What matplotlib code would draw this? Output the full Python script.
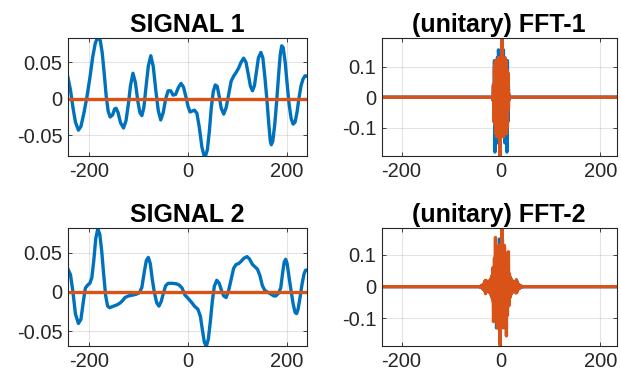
import numpy as np
import matplotlib
matplotlib.use("Agg")
import matplotlib.pyplot as plt

# ---- time-domain samples (real part; imaginary part is zero) ----
sig1_t = [-242, -237, -232, -227, -221, -216, -210, -204, -198, -192, -187, -183, -180,
          -177, -173, -169, -165, -161, -157, -152, -148, -145, -141, -136, -130, -125,
          -120, -116, -111, -106, -101, -97, -93, -89, -85, -80, -75, -70, -65, -60, -55,
          -50, -45, -40, -35, -30, -25, -19, -14, -9, -4, 0, 4, 8, 13, 18, 23, 28, 32, 35,
          39, 43, 47, 51, 55, 59, 63, 67, 72, 77, 82, 87, 92, 97, 102, 107, 112, 117, 122,
          126, 130, 134, 138, 142, 147, 151, 155, 159, 163, 166, 168, 171, 175, 179, 183,
          186, 189, 192, 196, 200, 204, 208, 212, 216, 220, 224, 228, 232, 236, 240]
sig1_re = [0.029, 0.012, -0.012, -0.032, -0.043, -0.038, -0.020, 0.002, 0.028, 0.058, 0.076,
           0.083, 0.083, 0.080, 0.063, 0.035, 0.004, -0.017, -0.025, -0.022, -0.014, -0.013,
           -0.019, -0.033, -0.040, -0.030, -0.006, 0.018, 0.035, 0.022, -0.004, -0.019,
           -0.023, -0.012, 0.014, 0.045, 0.059, 0.044, 0.012, -0.016, -0.029, -0.019, 0.000,
           0.011, 0.011, 0.005, 0.006, 0.016, 0.021, 0.016, 0.002, -0.010, -0.018, -0.017,
           -0.0155, -0.020, -0.040, -0.066, -0.077, -0.079, -0.070, -0.045, -0.012, 0.010,
           0.019, 0.017, 0.003, -0.013, -0.021, -0.012, 0.006, 0.024, 0.031, 0.036, 0.042,
           0.050, 0.0557, 0.050, 0.032, 0.017, 0.011, 0.018, 0.037, 0.056, 0.0635, 0.056,
           0.030, 0.000, -0.035, -0.058, -0.063, -0.058, -0.035, -0.002, 0.035, 0.060,
           0.0726, 0.070, 0.050, 0.020, -0.008, -0.027, -0.0347, -0.032, -0.018, 0.002,
           0.018, 0.027, 0.0315, 0.031]

sig2_t = [-242, -237, -232, -227, -221, -216, -211, -207, -202, -198, -194, -190, -186, -182,
          -178, -174, -170, -166, -162, -158, -150, -142, -137, -132, -127, -120, -112, -105,
          -98, -93, -88, -84, -80, -76, -72, -68, -63, -58.6, -54, -49, -45, -40, -32, -24,
          -18, -12, -6, 0, 7, 13, 20, 25, 29, 33, 37, 41, 45, 49, 53, 58, 63, 68, 72, 77, 82,
          87, 92, 97, 102, 107, 113, 119, 124, 130, 135, 140, 145, 150, 155, 160, 168, 173,
          177, 182, 187, 191, 194, 197, 200, 204, 208, 212, 216, 219, 222, 226, 230, 234,
          237, 240]
sig2_re = [0.029, 0.022, 0.000, -0.028, -0.040, -0.035, -0.012, 0.005, 0.009, 0.011, 0.018,
           0.040, 0.068, 0.080, 0.074, 0.052, 0.022, -0.005, -0.018, -0.020, -0.018, -0.016,
           -0.014, -0.011, -0.007, -0.005, -0.004, -0.003, -0.001, 0.006, 0.026, 0.040, 0.044,
           0.036, 0.016, 0.000, -0.014, -0.018, -0.012, 0.000, 0.008, 0.011, 0.011, 0.0105,
           0.009, 0.005, -0.004, -0.008, -0.013, -0.018, -0.022, -0.031, -0.048, -0.064,
           -0.069, -0.060, -0.038, -0.012, 0.007, 0.0149, 0.011, 0.001, -0.005, -0.007, 0.002,
           0.016, 0.030, 0.035, 0.036, 0.039, 0.043, 0.045, 0.042, 0.035, 0.032, 0.029, 0.021,
           0.008, 0.002, 0.000, -0.003, -0.005, -0.005, -0.002, 0.005, 0.025, 0.038, 0.0416,
           0.036, 0.018, 0.001, -0.015, -0.026, -0.0275, -0.022, -0.007, 0.010, 0.023, 0.0276,
           0.028]

# ---- unitary FFT coefficients near DC (zero elsewhere) ----
fft1_k = list(range(-16, 17))
fft1_re = [-0.01, 0.04, -0.08, 0.12, -0.18, 0.10, -0.13, 0.12, -0.15, 0.13, -0.12, 0.155,
           0.13, -0.10, 0.12, -0.09, 0.02, -0.09, 0.12, -0.10, 0.13, 0.155, -0.12, 0.13,
           -0.15, 0.12, -0.13, 0.10, -0.18, 0.12, -0.08, 0.04, -0.01]
fft1_im = [-0.01, 0.04, -0.08, 0.10, -0.09, 0.12, -0.12, 0.11, -0.13, 0.12, -0.10, 0.13,
           -0.12, 0.10, -0.194, 0.12, 0.0, -0.12, 0.194, -0.10, 0.12, -0.13, 0.10, -0.12,
           0.13, -0.11, 0.12, -0.12, 0.09, -0.10, 0.08, -0.04, 0.01]

fft2_k = list(range(-42, 43))
fft2_re = [0.001, -0.002, 0.002, -0.003, 0.004, -0.005, 0.006, -0.008, 0.01, -0.012, 0.018,
           -0.015, 0.012, -0.01, 0.01, -0.012, 0.012, -0.015, 0.015, -0.018, 0.02, -0.02,
           0.025, -0.03, 0.03, -0.035, 0.04, -0.05, 0.06, -0.07, 0.08, -0.09, 0.10, -0.13,
           -0.12, 0.09, -0.11, 0.10, -0.08, 0.15, 0.09, -0.06,
           0.03,
           -0.06, 0.09, 0.15, -0.08, 0.10, -0.11, 0.09, -0.12, -0.13, 0.10, -0.09, 0.08,
           -0.07, 0.06, -0.05, 0.04, -0.035, 0.03, -0.03, 0.025, -0.02, 0.02, -0.018, 0.015,
           -0.015, 0.012, -0.012, 0.01, -0.01, 0.012, -0.015, 0.018, -0.012, 0.01, -0.008,
           0.006, -0.005, 0.004, -0.003, 0.002, -0.002, 0.001]
fft2_im = [0.0, -0.001, 0.002, -0.003, 0.004, -0.005, 0.006, -0.008, 0.01, -0.012, 0.018,
           -0.022, 0.02, -0.015, 0.012, -0.01, 0.012, -0.015, 0.015, -0.018, 0.02, -0.02,
           0.025, -0.03, 0.035, -0.04, 0.06, -0.11, -0.07, 0.09, -0.08, 0.155, -0.09, 0.12,
           -0.10, -0.13, 0.09, -0.11, 0.13, -0.12, -0.184, 0.10,
           0.0,
           -0.10, 0.184, 0.12, -0.13, 0.11, -0.09, 0.13, 0.10, -0.12, 0.09, -0.155, 0.08,
           -0.09, 0.07, 0.11, -0.06, 0.04, -0.035, 0.03, -0.025, 0.02, -0.02, 0.018, -0.015,
           0.015, -0.012, 0.01, -0.012, 0.015, -0.02, 0.022, -0.018, 0.012, -0.01, 0.008,
           -0.006, 0.005, -0.004, 0.003, -0.002, 0.001, 0.0]

BLUE = "#0072BD"
ORANGE = "#D95319"
INK = "#262626"

plt.rcParams["font.family"] = ["Liberation Sans", "DejaVu Sans"]

freq_span = (-240, 233)


def full_spectrum(k, vals):
    """Place the listed coefficients on the whole frequency grid."""
    grid = np.arange(freq_span[0], freq_span[1] + 1)
    out = np.zeros(grid.size)
    out[np.searchsorted(grid, k)] = vals
    return grid, out


def style(ax, title, yticks, ylabels, xlim, ylim):
    ax.set_title(title, fontsize=18, fontweight="bold", color="black", pad=4.5)
    ax.set_xlim(*xlim)
    ax.set_ylim(*ylim)
    ax.set_xticks([-200, 0, 200])
    ax.set_xticklabels(["-200", "0", "200"])
    ax.set_yticks(yticks)
    ax.set_yticklabels(ylabels)
    ax.tick_params(direction="in", length=3, width=0.6, colors=INK, labelsize=14.5,
                   top=True, right=True, pad=4)
    ax.grid(True, color=INK, alpha=0.12, linewidth=0.8)
    ax.set_axisbelow(True)
    for s in ax.spines.values():
        s.set_color(INK)
        s.set_linewidth(0.8)


fig = plt.figure(figsize=(6.21, 3.78), dpi=100)
W, H = 621, 378
ax1 = fig.add_axes([68 / W, 1 - 156 / H, 239 / W, 118 / H])
ax2 = fig.add_axes([381.7 / W, 1 - 156 / H, 235 / W, 118 / H])
ax3 = fig.add_axes([68 / W, 1 - 346 / H, 239 / W, 117.7 / H])
ax4 = fig.add_axes([381.7 / W, 1 - 346 / H, 235 / W, 117.7 / H])

lw = 2.4
ax1.plot(sig1_t, sig1_re, color=BLUE, lw=lw)
ax1.plot(sig1_t, np.zeros(len(sig1_t)), color=ORANGE, lw=lw)
style(ax1, "SIGNAL 1", [-0.05, 0, 0.05], ["-0.05", "0", "0.05"], (-242, 240), (-0.0784, 0.0833))

ax3.plot(sig2_t, sig2_re, color=BLUE, lw=lw)
ax3.plot(sig2_t, np.zeros(len(sig2_t)), color=ORANGE, lw=lw)
style(ax3, "SIGNAL 2", [-0.05, 0, 0.05], ["-0.05", "0", "0.05"], (-242, 240), (-0.0687, 0.081))

g, r1 = full_spectrum(fft1_k, fft1_re)
_, i1 = full_spectrum(fft1_k, fft1_im)
ax2.plot(g, r1, color=BLUE, lw=lw)
ax2.plot(g, i1, color=ORANGE, lw=lw)
style(ax2, "(unitary) FFT-1", [-0.1, 0, 0.1], ["-0.1", "0", "0.1"], freq_span, (-0.193, 0.194))

g, r2 = full_spectrum(fft2_k, fft2_re)
_, i2 = full_spectrum(fft2_k, fft2_im)
ax4.plot(g, r2, color=BLUE, lw=lw)
ax4.plot(g, i2, color=ORANGE, lw=lw)
style(ax4, "(unitary) FFT-2", [-0.1, 0, 0.1], ["-0.1", "0", "0.1"], freq_span, (-0.187, 0.184))

fig.savefig("out.png", dpi=100, facecolor="white")
